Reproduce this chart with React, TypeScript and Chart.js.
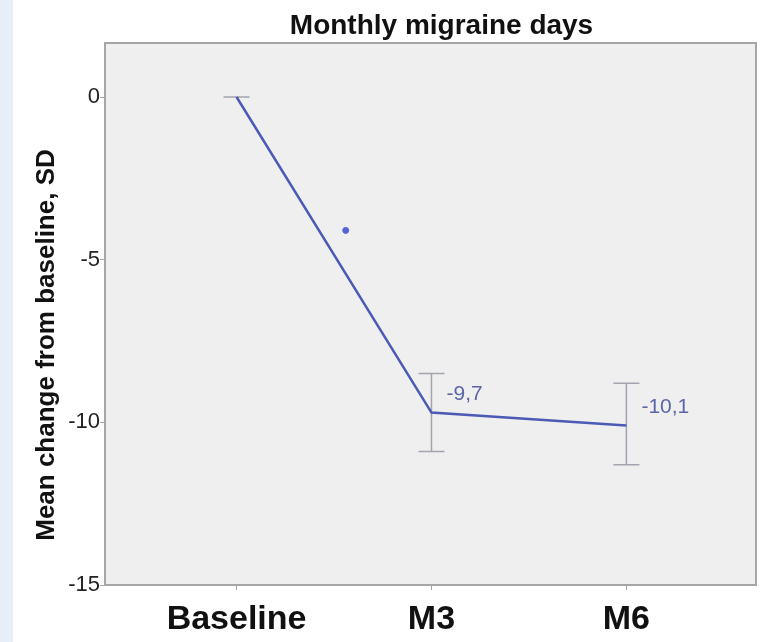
import { useEffect, useRef } from "react";
import { Chart, registerables } from "chart.js";

Chart.register(...registerables);

// Time points and mean change in monthly migraine days
const categories = ["Baseline", "M3", "M6"];
const meanChange = [0, -9.7, -10.1];
const errorHigh = [0, -8.5, -8.8];
const errorLow = [0, -10.9, -11.3];
const valueLabels = ["", "-9,7", "-10,1"];

// Single outlying observation between baseline and M3
const outlierX = [0.56];
const outlierY = [-4.1];

const yTickValues = [-15, -10, -5, 0];

const chartTitle = "Monthly migraine days";
const yAxisTitle = "Mean change from baseline, SD";

const FONT = "'Liberation Sans', Arial, Helvetica, sans-serif";

const decorPlugin = {
  id: "decor",
  beforeDraw(chart: any) {
    const { ctx, chartArea, width, height } = chart;
    ctx.save();
    ctx.fillStyle = "#ffffff";
    ctx.fillRect(0, 0, width, height);
    ctx.fillStyle = "#e8eef7";
    ctx.fillRect(0, 0, 13, height);
    ctx.fillStyle = "#efefef";
    ctx.fillRect(
      chartArea.left,
      chartArea.top,
      chartArea.right - chartArea.left,
      chartArea.bottom - chartArea.top
    );
    ctx.restore();
  },
  beforeDatasetsDraw(chart: any) {
    const { ctx, scales } = chart;
    const xs = scales.x;
    const ys = scales.y;
    ctx.save();
    ctx.strokeStyle = "#a4a4ae";
    ctx.lineWidth = 1.5;
    meanChange.forEach((_, i) => {
      const px = xs.getPixelForValue(i);
      const top = ys.getPixelForValue(errorHigh[i]);
      const bot = ys.getPixelForValue(errorLow[i]);
      const half = 13;
      ctx.beginPath();
      ctx.moveTo(px, top);
      ctx.lineTo(px, bot);
      ctx.moveTo(px - half, top);
      ctx.lineTo(px + half, top);
      ctx.moveTo(px - half, bot);
      ctx.lineTo(px + half, bot);
      ctx.stroke();
    });
    ctx.restore();
  },
  afterDatasetsDraw(chart: any) {
    const { ctx, scales } = chart;
    const xs = scales.x;
    const ys = scales.y;
    ctx.save();
    ctx.fillStyle = "#5a66a8";
    ctx.font = `21px ${FONT}`;
    ctx.textAlign = "left";
    ctx.textBaseline = "middle";
    valueLabels.forEach((txt, i) => {
      if (!txt) return;
      const px = xs.getPixelForValue(i);
      const py = ys.getPixelForValue(meanChange[i]);
      ctx.fillText(txt, px + 15, py - 18);
    });
    ctx.restore();
  },
  afterDraw(chart: any) {
    const { ctx, chartArea } = chart;
    ctx.save();
    // plot frame
    ctx.strokeStyle = "#a6a6a6";
    ctx.lineWidth = 2;
    ctx.strokeRect(
      chartArea.left,
      chartArea.top,
      chartArea.right - chartArea.left,
      chartArea.bottom - chartArea.top
    );
    // chart title
    ctx.fillStyle = "#111111";
    ctx.font = `bold 28px ${FONT}`;
    ctx.textAlign = "center";
    ctx.textBaseline = "middle";
    ctx.fillText(chartTitle, (chartArea.left + chartArea.right) / 2 + 11, 26);
    // vertical axis title
    ctx.translate(47, 345);
    ctx.rotate(-Math.PI / 2);
    ctx.font = `bold 26px ${FONT}`;
    ctx.fillText(yAxisTitle, 0, 0);
    ctx.restore();
  },
};

export default function App() {
  const canvasRef = useRef<HTMLCanvasElement | null>(null);

  useEffect(() => {
    const canvas = canvasRef.current;
    if (!canvas) return;
    const chart = new Chart(canvas, {
      type: "line",
      data: {
        datasets: [
          {
            type: "line",
            data: meanChange.map((v, i) => ({ x: i, y: v })),
            borderColor: "#4b5ab5",
            borderWidth: 2.5,
            pointRadius: 0,
            fill: false,
            tension: 0,
          },
          {
            type: "scatter",
            data: outlierX.map((x, i) => ({ x, y: outlierY[i] })),
            backgroundColor: "#5563d6",
            borderColor: "#5563d6",
            pointRadius: 3,
            showLine: false,
          },
        ],
      },
      options: {
        responsive: false,
        animation: false,
        devicePixelRatio: 1,
        layout: { padding: { left: 14, top: 43, right: 7, bottom: 0 } },
        plugins: {
          legend: { display: false },
          title: { display: false },
          tooltip: { enabled: false },
        },
        scales: {
          x: {
            type: "linear",
            min: -0.675,
            max: 2.665,
            afterFit(scale: any) {
              scale.height = 57;
            },
            afterBuildTicks(scale: any) {
              scale.ticks = categories.map((_, i) => ({ value: i }));
            },
            grid: {
              drawOnChartArea: false,
              drawTicks: true,
              tickLength: 5,
              color: "#a6a6a6",
            },
            border: { display: true, color: "#a6a6a6", width: 2 },
            ticks: {
              autoSkip: false,
              maxRotation: 0,
              padding: 9,
              color: "#111111",
              font: { family: FONT, size: 34, weight: "bold" },
              callback: (v: any) => categories[v] ?? "",
            },
          },
          y: {
            type: "linear",
            min: -15,
            max: 1.66,
            afterFit(scale: any) {
              scale.width = 91;
            },
            afterBuildTicks(scale: any) {
              scale.ticks = yTickValues.map((v) => ({ value: v }));
            },
            grid: {
              drawOnChartArea: false,
              drawTicks: true,
              tickLength: 5,
              color: "#a6a6a6",
            },
            border: { display: true, color: "#a6a6a6", width: 2 },
            ticks: {
              padding: 0,
              color: "#222222",
              font: { family: FONT, size: 22 },
            },
          },
        },
      },
      plugins: [decorPlugin],
    } as any);
    return () => chart.destroy();
  }, []);

  return (
    <div style={{ position: "absolute", left: 0, top: 0, width: 763, height: 642 }}>
      <canvas
        ref={canvasRef}
        width={763}
        height={642}
        style={{ display: "block", width: 763, height: 642 }}
      />
    </div>
  );
}
